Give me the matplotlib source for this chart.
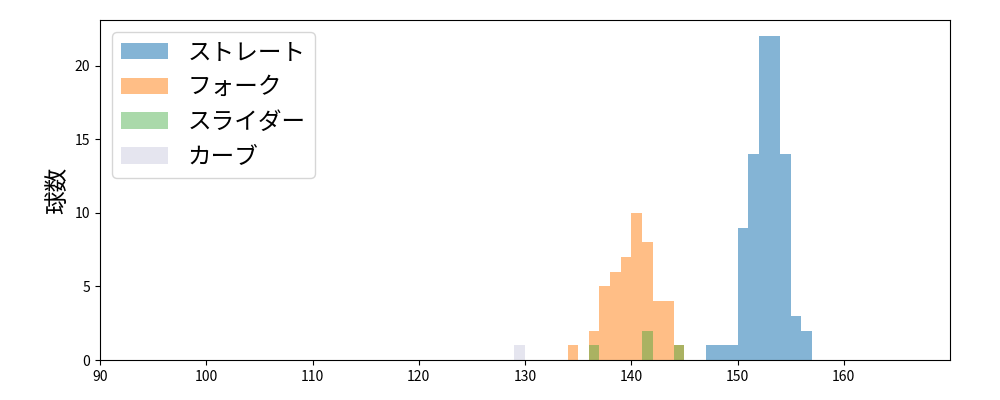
import numpy as np
import matplotlib
matplotlib.use('Agg')
import matplotlib.pyplot as plt

plt.rcParams['font.family'] = ['Noto Sans CJK JP', 'DejaVu Sans']

# 1 km/h bins: (left edge, count)
straight_bins = [147, 148, 149, 150, 151, 152, 153, 154, 155, 156]
straight_counts = [1, 1, 1, 9, 14, 22, 22, 14, 3, 2]

fork_bins = [134, 135, 136, 137, 138, 139, 140, 141, 142, 143, 144]
fork_counts = [1, 0, 2, 5, 6, 7, 10, 8, 4, 4, 1]

slider_bins = [136, 137, 138, 139, 140, 141, 142, 143, 144]
slider_counts = [1, 0, 0, 0, 0, 2, 0, 0, 1]

curve_bins = [129]
curve_counts = [1]

labels = ['ストレート', 'フォーク', 'スライダー', 'カーブ']
colors = ['#1f77b4', '#ff7f0e', '#2ca02c', '#cdcde1']
alphas = [0.55, 0.5, 0.4, 0.5]

fig, ax = plt.subplots(figsize=(10, 4), dpi=100)
fig.subplots_adjust(left=0.1, right=0.95, top=0.95, bottom=0.1)

series = [(straight_bins, straight_counts), (fork_bins, fork_counts),
          (slider_bins, slider_counts), (curve_bins, curve_counts)]
for (b, c), lab, col, a in zip(series, labels, colors, alphas):
    b = np.array(b)
    edges = np.append(b, b[-1] + 1)
    ax.hist(b + 0.5, bins=edges, weights=c, color=col, alpha=a, label=lab)

ax.set_xlim(90, 170)
ax.set_ylim(0, 23.1)
ax.set_xticks(range(90, 170, 10))
ax.set_yticks([0, 5, 10, 15, 20])
ax.set_ylabel('球数', fontsize=17)
ax.legend(loc='upper left', fontsize=17)

plt.savefig('out.png')
plt.close()
